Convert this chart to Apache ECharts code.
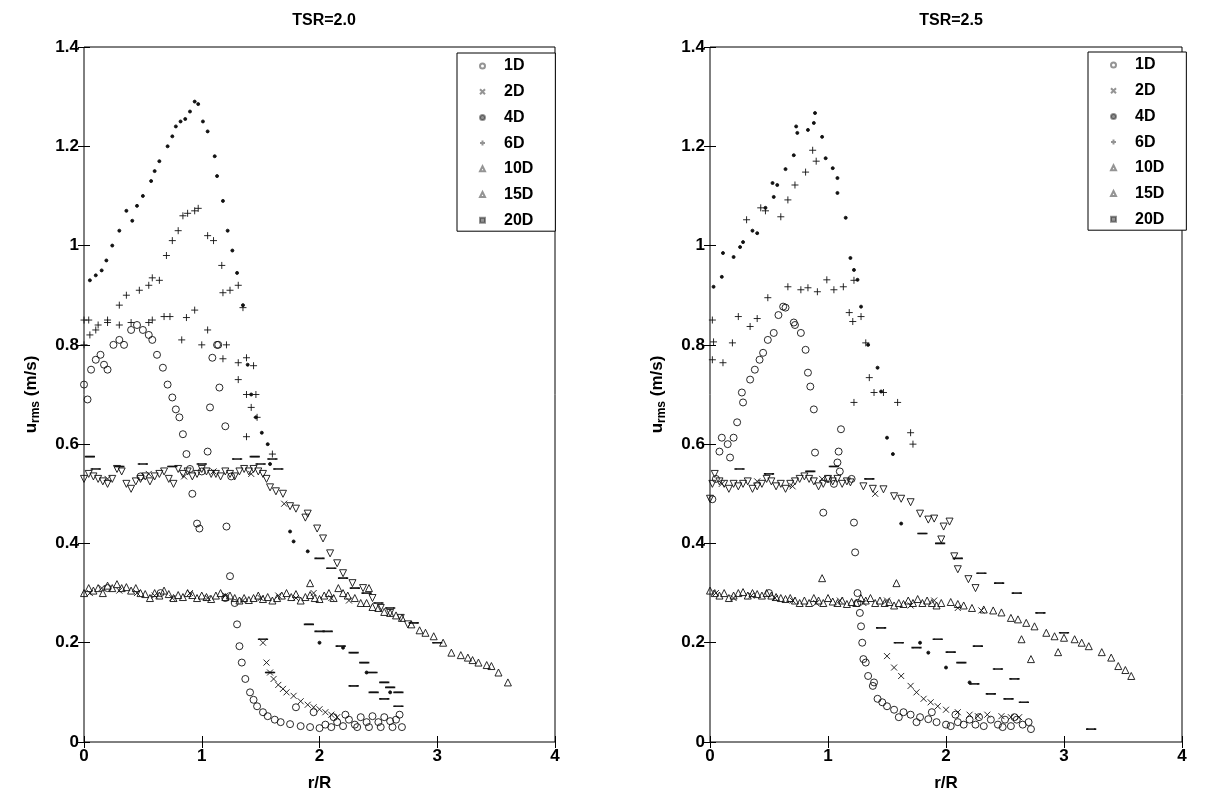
<!DOCTYPE html>
<html>
<head>
<meta charset="utf-8">
<script src="https://cdn.jsdelivr.net/npm/echarts@6/dist/echarts.min.js"></script>
<style>html,body{margin:0;padding:0;background:#fff}#c{width:1207px;height:797px}</style>
</head>
<body>
<div id="c"></div>
<script>
// ---------- DATA ----------
const seriesNames = ['1D','2D','4D','6D','10D','15D','20D'];
const titles = ['TSR=2.0','TSR=2.5'];
const xTicks = [0,1,2,3,4];
const yTicks = [0,0.2,0.4,0.6,0.8,1,1.2,1.4];

// TSR = 2.0 (left panel): [r/R, u_rms]
const L_1D = [[0.0,0.72],[0.03,0.69],[0.06,0.75],[0.1,0.77],[0.14,0.78],[0.17,0.76],[0.2,0.75],[0.25,0.8],[0.3,0.81],[0.34,0.8],[0.4,0.83],[0.45,0.84],[0.5,0.83],[0.55,0.82],[0.58,0.81],[0.62,0.78],[0.67,0.754],[0.71,0.72],[0.75,0.694],[0.78,0.67],[0.81,0.654],[0.84,0.62],[0.87,0.58],[0.92,0.5],[0.96,0.44],[0.98,0.43],
  [1.13,0.8],[1.14,0.8],[1.09,0.774],[1.15,0.714],[1.07,0.674],[1.2,0.636],[1.05,0.585],[1.21,0.434],[1.24,0.334],
  [1.28,0.28],[1.3,0.237],[1.32,0.193],[1.34,0.16],[1.37,0.127],[1.41,0.1],[1.44,0.085],[1.47,0.072],[1.52,0.06],[1.56,0.052],[1.62,0.045],[1.67,0.04],[1.75,0.036],[1.84,0.032],[1.92,0.03],[2.0,0.028],[2.05,0.035],[2.1,0.03],[2.15,0.04],[2.2,0.032],[2.25,0.045],[2.3,0.035],[2.35,0.05],[2.4,0.04],[2.45,0.052],[2.5,0.04],[2.55,0.05],[2.6,0.042],[2.65,0.045],[2.7,0.03],
  [2.12,0.05],[2.22,0.055],[2.32,0.03],[2.42,0.03],[2.52,0.03],[2.62,0.03],[2.68,0.055],[1.8,0.07],[1.95,0.06],
  [0.2,0.31],[0.65,0.3],[1.2,0.29],[0.9,0.55],[1.0,0.545],[1.25,0.535],[0.48,0.535]];
const L_2D = [[1.52,0.2],[1.55,0.16],[1.58,0.14],[1.61,0.127],[1.65,0.115],[1.69,0.107],[1.72,0.1],[1.78,0.093],[1.84,0.082],[1.9,0.075],[1.95,0.07],[2.0,0.066],[2.05,0.06],[2.1,0.055],[2.15,0.05],
  [0.05,0.3],[0.15,0.31],[0.3,0.305],[0.45,0.3],[0.6,0.295],[0.75,0.29],[0.9,0.3],[1.05,0.29],[1.2,0.295],[1.35,0.285],[1.5,0.29],[1.65,0.295],[1.8,0.29],[1.95,0.3],[2.1,0.29],[2.25,0.285],
  [0.2,0.53],[0.55,0.54],[0.85,0.535],[1.1,0.545],[1.42,0.54],[1.7,0.48]];
const L_4D = [[0.05,0.93],[0.1,0.94],[0.15,0.95],[0.19,0.97],[0.24,1.0],[0.3,1.03],[0.36,1.07],[0.41,1.05],[0.45,1.08],[0.5,1.1],[0.57,1.13],[0.6,1.15],[0.64,1.17],[0.71,1.2],[0.75,1.22],[0.78,1.24],[0.82,1.25],[0.86,1.255],[0.9,1.27],[0.94,1.29],[0.97,1.285],
  [1.01,1.25],[1.05,1.23],[1.11,1.18],[1.13,1.14],[1.18,1.09],[1.22,1.03],[1.26,0.99],[1.3,0.945],[1.35,0.88],[1.39,0.76],[1.42,0.7],[1.46,0.654],[1.51,0.623],[1.56,0.6],[1.58,0.56],
  [1.75,0.424],[1.78,0.404],[1.9,0.384],[2.0,0.2],[2.2,0.19],[2.4,0.14],[2.6,0.1]];
const L_6D = [[0.0,0.8],[0.05,0.82],[0.1,0.83],[0.2,0.85],[0.3,0.88],[0.36,0.9],[0.47,0.91],[0.55,0.92],[0.58,0.935],[0.64,0.93],[0.7,0.98],[0.75,1.01],[0.8,1.03],[0.84,1.06],[0.88,1.065],[0.94,1.07],[0.97,1.075],
  [1.05,1.02],[1.1,1.01],[1.17,0.96],[1.24,0.91],[1.18,0.905],[1.31,0.92],[1.35,0.875],
  [0.0,0.85],[0.04,0.85],[0.12,0.84],[0.2,0.845],[0.3,0.84],[0.4,0.845],[0.55,0.845],[0.58,0.85],[0.68,0.857],[0.73,0.857],[0.83,0.81],[0.87,0.855],[0.94,0.87],[1.0,0.8],[1.05,0.83],[1.18,0.772],[1.21,0.8],[1.31,0.764],[1.38,0.774],[1.44,0.758],[1.31,0.73],[1.38,0.7],[1.46,0.7],[1.42,0.674],[1.47,0.654],[1.38,0.615],[1.6,0.58]];
const L_10D = [[0.0,0.53],[0.04,0.54],[0.08,0.535],[0.12,0.53],[0.16,0.525],[0.2,0.52],[0.24,0.53],[0.28,0.55],[0.32,0.545],[0.36,0.52],[0.4,0.51],[0.44,0.525],[0.48,0.53],[0.52,0.535],[0.56,0.525],[0.6,0.535],[0.64,0.54],[0.68,0.545],[0.72,0.53],[0.76,0.52],[0.8,0.55],[0.84,0.54],[0.88,0.545],[0.92,0.535],[0.96,0.54],[1.0,0.55],[1.04,0.545],[1.08,0.54],[1.12,0.54],[1.16,0.535],[1.2,0.545],[1.24,0.54],[1.28,0.535],[1.32,0.545],[1.36,0.55],[1.4,0.545],[1.44,0.55],[1.48,0.545],[1.52,0.54],[1.55,0.53],
  [1.58,0.513],[1.63,0.505],[1.69,0.5],[1.75,0.475],[1.8,0.47],[1.88,0.452],[1.9,0.46],[1.98,0.43],[2.03,0.41],[2.09,0.38],[2.15,0.36],[2.2,0.34],[2.28,0.32],[2.37,0.31],[2.45,0.29],[2.52,0.27],[2.6,0.26],[2.69,0.25],[2.75,0.237]];
const L_15D = [[0.0,0.3],[0.04,0.31],[0.08,0.305],[0.12,0.31],[0.16,0.3],[0.2,0.315],[0.24,0.31],[0.28,0.318],[0.32,0.31],[0.36,0.312],[0.4,0.305],[0.44,0.31],[0.48,0.3],[0.52,0.298],[0.56,0.29],[0.6,0.3],[0.64,0.295],[0.68,0.305],[0.72,0.298],[0.76,0.29],[0.8,0.296],[0.84,0.292],[0.88,0.3],[0.92,0.296],[0.96,0.29],[1.0,0.295],[1.04,0.292],[1.08,0.288],[1.12,0.295],[1.16,0.3],[1.2,0.292],[1.24,0.295],[1.28,0.29],[1.32,0.285],[1.36,0.29],[1.4,0.286],[1.44,0.29],[1.48,0.295],[1.52,0.288],[1.56,0.292],[1.6,0.285],[1.64,0.29],[1.68,0.295],[1.72,0.3],[1.76,0.292],[1.8,0.298],[1.84,0.285],[1.88,0.292],[1.92,0.296],[1.96,0.29],[2.0,0.288],[2.04,0.295],[2.08,0.3],[2.12,0.29],[2.16,0.31],[2.2,0.3],[2.24,0.295],
  [2.3,0.29],[2.35,0.28],[2.4,0.28],[2.45,0.272],[2.5,0.27],[2.55,0.262],[2.6,0.26],[2.65,0.255],[2.7,0.25],[2.78,0.237],[2.85,0.225],[2.9,0.22],[2.97,0.213],[3.05,0.2],[3.12,0.18],[3.2,0.175],[3.26,0.17],[3.3,0.165],[3.35,0.16],[3.42,0.155],[3.46,0.153],[3.52,0.14],[3.6,0.12],[2.42,0.31],[1.92,0.32]];
const L_20D = [[1.91,0.237],[2.0,0.223],[2.07,0.223],[2.18,0.193],[2.29,0.18],[2.38,0.16],[2.45,0.14],[2.55,0.12],[2.6,0.11],[2.67,0.1],[2.29,0.113],[2.46,0.1],[2.55,0.087],[2.67,0.072],[1.58,0.14],[1.52,0.207],
  [2.0,0.37],[2.1,0.35],[2.2,0.33],[2.3,0.31],[2.4,0.3],[2.5,0.28],[2.6,0.27],[2.8,0.24],[3.0,0.2],
  [0.05,0.575],[0.1,0.55],[0.3,0.555],[0.5,0.56],[0.75,0.555],[1.0,0.56],[1.3,0.57],[1.45,0.575],[1.5,0.56],[1.6,0.57],[1.65,0.55]];

// TSR = 2.5 (right panel)
const R_1D = [[0.02,0.489],[0.05,0.53],[0.08,0.585],[0.1,0.613],[0.15,0.6],[0.17,0.573],[0.2,0.613],[0.23,0.644],[0.28,0.684],[0.27,0.704],[0.34,0.73],[0.38,0.75],[0.42,0.77],[0.45,0.784],[0.49,0.81],[0.54,0.824],[0.58,0.86],[0.62,0.877],[0.64,0.875],[0.71,0.845],[0.72,0.84],[0.77,0.824],[0.81,0.79],[0.83,0.744],[0.85,0.716],[0.88,0.67],[0.89,0.583],[0.96,0.462],
  [1.11,0.63],[1.09,0.585],[1.08,0.563],[1.1,0.545],[1.22,0.442],[1.23,0.382],
  [1.25,0.3],[1.27,0.26],[1.28,0.233],[1.29,0.2],[1.3,0.167],[1.32,0.16],[1.34,0.133],[1.38,0.113],[1.39,0.12],[1.42,0.087],[1.46,0.08],[1.5,0.072],[1.56,0.065],[1.64,0.06],[1.7,0.055],[1.78,0.05],[1.85,0.046],[1.92,0.04],[2.0,0.035],[2.04,0.032],[2.1,0.04],[2.15,0.035],[2.2,0.045],[2.25,0.035],[2.32,0.032],[2.38,0.045],[2.44,0.035],[2.5,0.045],[2.55,0.032],[2.6,0.045],[2.65,0.035],[2.7,0.04],[2.72,0.026],
  [1.6,0.05],[1.75,0.04],[1.88,0.06],[2.08,0.055],[2.28,0.05],[2.48,0.03],[2.58,0.05],
  [0.5,0.3],[1.25,0.28],[1.0,0.53],[1.05,0.52],[1.2,0.53]];
const R_2D = [[1.5,0.173],[1.56,0.15],[1.62,0.133],[1.7,0.113],[1.75,0.1],[1.81,0.087],[1.87,0.08],[1.93,0.072],[2.0,0.065],[2.1,0.06],[2.2,0.055],[2.27,0.052],[2.35,0.055],[2.47,0.052],[2.55,0.05],[2.62,0.05],
  [0.05,0.3],[0.2,0.29],[0.35,0.295],[0.55,0.29],[0.7,0.285],[0.9,0.28],[1.1,0.285],[1.3,0.28],[1.5,0.285],[1.7,0.275],[1.9,0.285],[2.1,0.27],[2.3,0.265],
  [0.1,0.52],[0.4,0.525],[0.7,0.515],[0.95,0.53],[1.4,0.5]];
const R_4D = [[0.03,0.917],[0.1,0.937],[0.11,0.985],[0.2,0.977],[0.255,0.997],[0.28,1.007],[0.36,1.03],[0.4,1.025],[0.47,1.076],[0.53,1.126],[0.54,1.098],[0.57,1.122],[0.64,1.154],[0.71,1.182],[0.74,1.227],[0.73,1.24],[0.83,1.233],[0.88,1.247],[0.89,1.267],[0.95,1.219],[0.98,1.176],[1.04,1.156],[1.08,1.136],[1.08,1.106],[1.15,1.056],[1.19,0.975],[1.22,0.951],[1.25,0.931],[1.28,0.877],[1.34,0.8],[1.42,0.754],[1.45,0.706],[1.5,0.613],[1.55,0.58],
  [1.62,0.44],[1.78,0.2],[1.85,0.18],[2.0,0.15],[2.2,0.12]];
const R_6D = [[0.31,1.052],[0.43,1.076],[0.47,1.07],[0.6,1.058],[0.66,1.092],[0.72,1.122],[0.81,1.148],[0.87,1.192],[0.9,1.17],[0.49,0.895],[0.66,0.917],[0.77,0.911],[0.83,0.915],[0.91,0.907],[0.99,0.931],[1.05,0.911],[1.13,0.917],[1.22,0.93],
  [0.02,0.85],[0.24,0.857],[0.34,0.837],[0.4,0.853],[0.03,0.806],[0.19,0.804],[0.02,0.77],[0.11,0.764],[1.18,0.865],[1.21,0.847],[1.28,0.857],[1.32,0.804],[1.35,0.734],[1.39,0.704],[1.47,0.704],[1.59,0.684],[1.22,0.684],[1.7,0.623],[1.72,0.6]];
const R_10D = [[0.0,0.49],[0.02,0.52],[0.04,0.54],[0.08,0.525],[0.12,0.52],[0.16,0.51],[0.2,0.52],[0.24,0.515],[0.28,0.52],[0.32,0.525],[0.36,0.51],[0.4,0.515],[0.44,0.52],[0.48,0.53],[0.52,0.525],[0.56,0.515],[0.6,0.52],[0.64,0.51],[0.68,0.52],[0.72,0.525],[0.76,0.53],[0.8,0.535],[0.84,0.53],[0.88,0.525],[0.92,0.515],[0.96,0.52],[1.0,0.53],[1.04,0.525],[1.08,0.53],[1.12,0.52],[1.16,0.525],
  [1.19,0.523],[1.3,0.515],[1.38,0.51],[1.47,0.509],[1.56,0.495],[1.62,0.49],[1.7,0.483],[1.78,0.46],[1.85,0.448],[1.9,0.45],[1.98,0.434],[2.03,0.444],[1.96,0.408],[2.07,0.374],[2.1,0.348],[2.19,0.328],[2.25,0.31]];
const R_15D = [[0.0,0.305],[0.04,0.3],[0.08,0.295],[0.12,0.3],[0.16,0.29],[0.2,0.295],[0.24,0.3],[0.28,0.302],[0.32,0.295],[0.36,0.3],[0.4,0.298],[0.44,0.295],[0.48,0.3],[0.52,0.295],[0.56,0.292],[0.6,0.29],[0.64,0.288],[0.68,0.29],[0.72,0.285],[0.76,0.28],[0.8,0.285],[0.84,0.28],[0.88,0.29],[0.92,0.285],[0.96,0.28],[1.0,0.29],[1.04,0.283],[1.08,0.28],[1.12,0.285],[1.16,0.278],[1.2,0.282],[1.24,0.28],[1.28,0.29],[1.32,0.285],[1.36,0.29],[1.4,0.28],[1.44,0.285],[1.48,0.28],[1.52,0.282],[1.56,0.275],[1.6,0.28],[1.64,0.278],[1.68,0.285],[1.72,0.28],[1.76,0.288],[1.8,0.28],[1.84,0.285],[1.88,0.28],[1.92,0.275],[1.96,0.28],
  [2.04,0.282],[2.1,0.278],[2.15,0.275],[2.22,0.27],[2.32,0.267],[2.4,0.265],[2.47,0.261],[2.55,0.25],[2.61,0.247],[2.68,0.24],[2.75,0.233],[2.85,0.22],[2.92,0.213],[3.0,0.21],[3.09,0.207],[3.15,0.2],[3.21,0.193],[3.32,0.181],[3.4,0.17],[3.46,0.153],[3.52,0.145],[3.57,0.133],
  [0.95,0.33],[1.58,0.32],[2.64,0.207],[2.72,0.167],[2.95,0.181]];
const R_20D = [[1.93,0.207],[2.04,0.181],[2.13,0.16],[2.24,0.117],[2.38,0.097],[2.53,0.087],[2.66,0.08],[2.27,0.193],[2.44,0.147],[2.58,0.127],[1.45,0.23],[1.6,0.2],[1.75,0.19],[3.23,0.026],
  [0.25,0.55],[0.5,0.54],[0.85,0.545],[1.05,0.555],[1.35,0.53],[1.8,0.42],[1.95,0.4],[2.1,0.37],[2.3,0.34],[2.45,0.32],[2.6,0.3],[2.8,0.26],[3.0,0.22]];

const leftData = [L_1D,L_2D,L_4D,L_6D,L_10D,L_15D,L_20D];
const rightData = [R_1D,R_2D,R_4D,R_6D,R_10D,R_15D,R_20D];

// ---------- STYLE ----------
const FONT = 'Liberation Sans, Arial, sans-serif';
const ink = '#111';
const markers = [
  {symbol:'circle', size:7, fill:'transparent'},
  {symbol:'path://M0,0L10,10M10,0L0,10', size:6, fill:'transparent'},
  {symbol:'circle', size:3, fill:ink},
  {symbol:'path://M5,0L5,10M0,5L10,5', size:7, fill:'transparent'},
  {symbol:'triangle', size:7, fill:'transparent', rotate:180},
  {symbol:'triangle', size:7, fill:'transparent'},
  {symbol:'rect', size:[8,1.3], fill:ink}
];

const grids = [
  {left:84, top:47, width:471, height:696},
  {left:710, top:47, width:472, height:696}
];

function xAx(g, pos, show){
  return {type:'value', gridIndex:g, position:pos, min:0, max:4, interval:1,
    axisLine:{show:false}, splitLine:{show:false},
    axisTick:{show:true, inside:true, length:6, lineStyle:{color:'#000'}},
    axisLabel:{show:show, color:'#000', fontFamily:FONT, fontWeight:'bold', fontSize:17, margin:6},
    name: show ? 'r/R' : '', nameLocation:'middle', nameGap:33,
    nameTextStyle:{color:'#000', fontFamily:FONT, fontWeight:'bold', fontSize:17}};
}
function yAx(g, pos, show){
  return {type:'value', gridIndex:g, position:pos, min:0, max:1.4, interval:0.2,
    axisLine:{show:false}, splitLine:{show:false},
    axisTick:{show:true, inside:true, length:6, lineStyle:{color:'#000'}},
    axisLabel:{show:show, color:'#000', fontFamily:FONT, fontWeight:'bold', fontSize:17, margin:5,
      formatter: v => String(Math.round(v*10)/10)},
    name: show ? '{a|u}{s|rms}{a| (m/s)}' : '', nameLocation:'middle', nameGap:42, nameRotate:90,
    nameTextStyle:{color:'#000', fontFamily:FONT, fontWeight:'bold', fontSize:17,
      rich:{a:{fontFamily:FONT, fontWeight:'bold', fontSize:17, color:'#000', lineHeight:22},
            s:{fontFamily:FONT, fontWeight:'bold', fontSize:12, color:'#000', lineHeight:22, padding:[10,0,0,0]}}}};
}

const series = [];
[leftData, rightData].forEach((arrs, g) => {
  arrs.forEach((d, i) => {
    const m = markers[i];
    series.push({
      type:'scatter', name:seriesNames[i], xAxisIndex:g*2, yAxisIndex:g*2,
      data:d, symbol:m.symbol, symbolSize:m.size, symbolRotate:m.rotate||0,
      itemStyle:{color:m.fill, borderColor:ink, borderWidth:0.9, opacity:1},
      emphasis:{disabled:true}, animation:false, silent:true
    });
  });
});

function legend(left, top){
  return {left:left, top:top, orient:'vertical', data:seriesNames,
    backgroundColor:'#fff', borderColor:'#000', borderWidth:1,
    padding:[5,22,3,22], itemGap:9.7, itemWidth:5, itemHeight:5,
    itemStyle:{opacity:0.45},
    textStyle:{color:'#000', fontFamily:FONT, fontWeight:'bold', fontSize:16, padding:[0,0,0,14]},
    selectedMode:false};
}

const option = {
  animation:false,
  backgroundColor:'#fff',
  title: titles.map((t, g) => ({text:t, left: g===0 ? 319 : 946, top:8, textAlign:'center',
    textStyle:{color:'#000', fontFamily:FONT, fontWeight:'bold', fontSize:16}})),
  grid: grids.map(g => Object.assign({show:true, borderColor:'#000', borderWidth:1, backgroundColor:'transparent'}, g)),
  xAxis:[xAx(0,'bottom',true), xAx(0,'top',false), xAx(1,'bottom',true), xAx(1,'top',false)],
  yAxis:[yAx(0,'left',true), yAx(0,'right',false), yAx(1,'left',true), yAx(1,'right',false)],
  legend:[legend(457,53), legend(1088,52)],
  series:series
};
echarts.init(document.getElementById('c'), null, {renderer:'canvas'}).setOption(option);
</script>
</body>
</html>
